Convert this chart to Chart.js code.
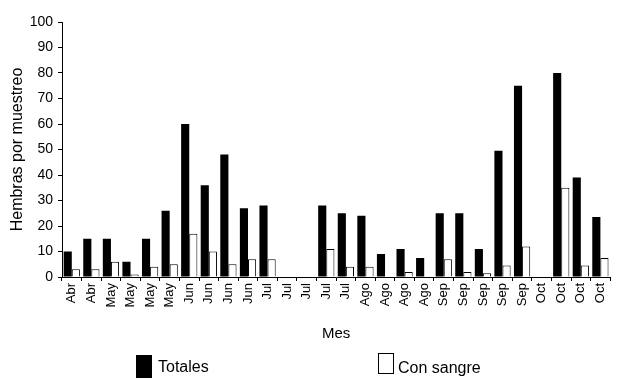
<!DOCTYPE html>
<html>
<head>
<meta charset="utf-8">
<script src="https://cdn.jsdelivr.net/npm/chart.js@4.4.1/dist/chart.umd.min.js"></script>
<style>
  html, body { margin: 0; padding: 0; background: #fff; }
  #wrap { width: 618px; height: 380px; position: relative; }
</style>
</head>
<body>
<div id="wrap"><canvas id="grafico"></canvas></div>
<script>
const meses = ["Abr", "Abr", "May", "May", "May", "May", "Jun", "Jun", "Jun", "Jun",
  "Jul", "Jul", "Jul", "Jul", "Jul", "Ago", "Ago", "Ago", "Ago",
  "Sep", "Sep", "Sep", "Sep", "Sep", "Oct", "Oct", "Oct", "Oct"];
const totales = [10, 15, 15, 6, 15, 26, 60, 36, 48, 27,
  28, 0, 0, 28, 25, 24, 9, 11, 7.5,
  25, 25, 11, 49.5, 75, 0, 80, 39, 23.5];
const conSangre = [3, 3, 6, 1, 4, 5, 17, 10, 5, 7,
  7, 0, 0, 11, 4, 4, 0, 2, 0,
  7, 2, 1.5, 4.5, 12, 0, 35, 4.5, 7.5];
const ticksY = [0, 10, 20, 30, 40, 50, 60, 70, 80, 90, 100];

const fuente = "'Liberation Sans', Arial, Helvetica, sans-serif";
Chart.defaults.font.family = fuente;
Chart.defaults.color = "#000";

// leyenda abajo, las dos entradas muy separadas como en la figura
const leyendaAbajo = {
  id: "leyendaAbajo",
  afterDraw(chart) {
    const ctx = chart.ctx;
    const pos = [{ x: 136, y: 355, w: 16, h: 23, tx: 158, ty: 368 },
                 { x: 378, y: 353, w: 16, h: 21, tx: 398, ty: 369 }];
    ctx.save();
    chart.data.datasets.forEach((ds, i) => {
      const p = pos[i];
      ctx.fillStyle = ds.backgroundColor;
      ctx.fillRect(p.x, p.y, p.w, p.h);
      ctx.strokeStyle = "#000";
      ctx.lineWidth = 1;
      ctx.strokeRect(p.x + 0.5, p.y + 0.5, p.w - 1, p.h - 1);
      ctx.fillStyle = "#000";
      ctx.font = "16px " + fuente;
      ctx.textBaseline = "middle";
      ctx.fillText(ds.label, p.tx, p.ty);
    });
    ctx.restore();
  }
};

new Chart(document.getElementById("grafico"), {
  type: "bar",
  data: {
    labels: meses,
    datasets: [
      { label: "Totales", data: totales, backgroundColor: "#000", borderColor: "#000", borderWidth: 0 },
      { label: "Con sangre", data: conSangre, backgroundColor: "#fff", borderColor: "#000", borderWidth: 1 }
    ]
  },
  options: {
    responsive: true,
    maintainAspectRatio: false,
    animation: false,
    layout: { padding: { top: 22, right: 0, bottom: 33, left: 0 } },
    plugins: { legend: { display: false }, tooltip: { enabled: false } },
    datasets: { bar: { categoryPercentage: 0.83, barPercentage: 1.0 } },
    scales: {
      x: {
        grid: { drawOnChartArea: false, drawTicks: true, tickLength: 4, color: "#000", offset: true },
        border: { display: true, color: "#000", width: 1 },
        ticks: { minRotation: 90, maxRotation: 90, autoSkip: false, padding: 2, font: { size: 13 } },
        title: { display: true, text: "Mes", font: { size: 15 }, padding: { top: 4, bottom: 4 } },
        afterFit(scale) { scale.height = 70; }
      },
      y: {
        min: 0,
        max: 100,
        afterBuildTicks(scale) { scale.ticks = ticksY.map(v => ({ value: v })); },
        grid: { drawOnChartArea: false, drawTicks: true, tickLength: 4, color: "#000" },
        border: { display: true, color: "#000", width: 1 },
        ticks: { padding: 5, font: { size: 14 } },
        title: { display: true, text: "Hembras por muestreo", font: { size: 16 }, padding: { top: 8, bottom: 4 } },
        afterFit(scale) { scale.width = 62; }
      }
    }
  },
  plugins: [leyendaAbajo]
});
</script>
</body>
</html>
